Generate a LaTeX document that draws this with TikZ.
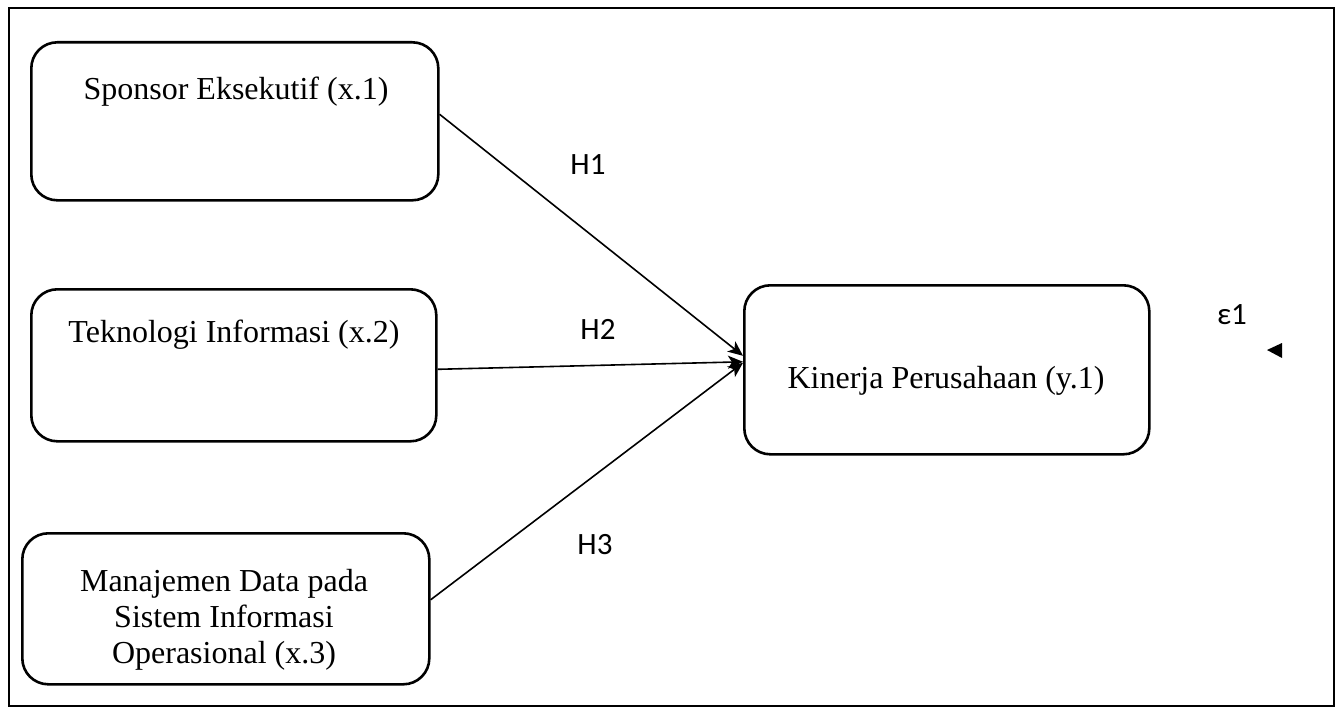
\documentclass[tikz,border=0pt]{standalone}
\usepackage{fontspec}
\setmainfont{Liberation Serif}
\newfontfamily\carlito{Carlito}
\usetikzlibrary{arrows.meta}
\begin{document}
\begin{tikzpicture}[x=1pt,y=-1pt,
  frame/.style={draw, line width=1.6pt},
  box/.style={draw, line width=2.6pt, rounded corners=26pt, inner sep=0pt, anchor=north west},
  boxtext/.style={font=\fontsize{32}{36}\selectfont, anchor=base, align=center, inner sep=0pt},
  lab/.style={font=\carlito\fontsize{31}{34}\selectfont, inner sep=0pt},
  conn/.style={line width=1.6pt, -{Stealth[length=15pt,width=13pt,inset=4pt]}}]
\useasboundingbox (0,0) rectangle (1340,709);
\draw[frame] (9,8) rectangle (1334,706);
% boxes
\node[box, minimum width=407pt, minimum height=158pt] (x1) at (30,41) {};
\node[box, minimum width=405pt, minimum height=152pt] (x2) at (30,288) {};
\node[box, minimum width=407pt, minimum height=151pt] (x3) at (21,532) {};
\node[box, minimum width=405pt, minimum height=169pt] (y1) at (743,284) {};
% box texts
\node[boxtext] (t1) at (236,99) {Sponsor Eksekutif (x.1)};
\node[boxtext] (t2) at (234,342) {Teknologi Informasi (x.2)};
\node[boxtext] (t3) at (224,663) {Manajemen Data pada\\Sistem Informasi\\Operasional (x.3)};
\node[boxtext] (t4) at (946,388) {Kinerja Perusahaan (y.1)};
% labels
\node[lab] (h1) at (588,165) {H1};
\node[lab] (h2) at (598,329) {H2};
\node[lab] (h3) at (595,545) {H3};
\node[lab] (eps) at (1232,315) {ε1};
% connectors
\draw[conn] ([yshift=7pt]x1.east) -- ([yshift=14pt]y1.west);
\draw[conn] ([yshift=-4pt]x2.east) -- ([yshift=8pt]y1.west);
\draw[conn] ([yshift=9pt]x3.east) -- ([yshift=7pt]y1.west);
% stray arrowhead
\fill (1267,350) -- (1282,343) -- (1282,358) -- cycle;
\end{tikzpicture}
\end{document}
